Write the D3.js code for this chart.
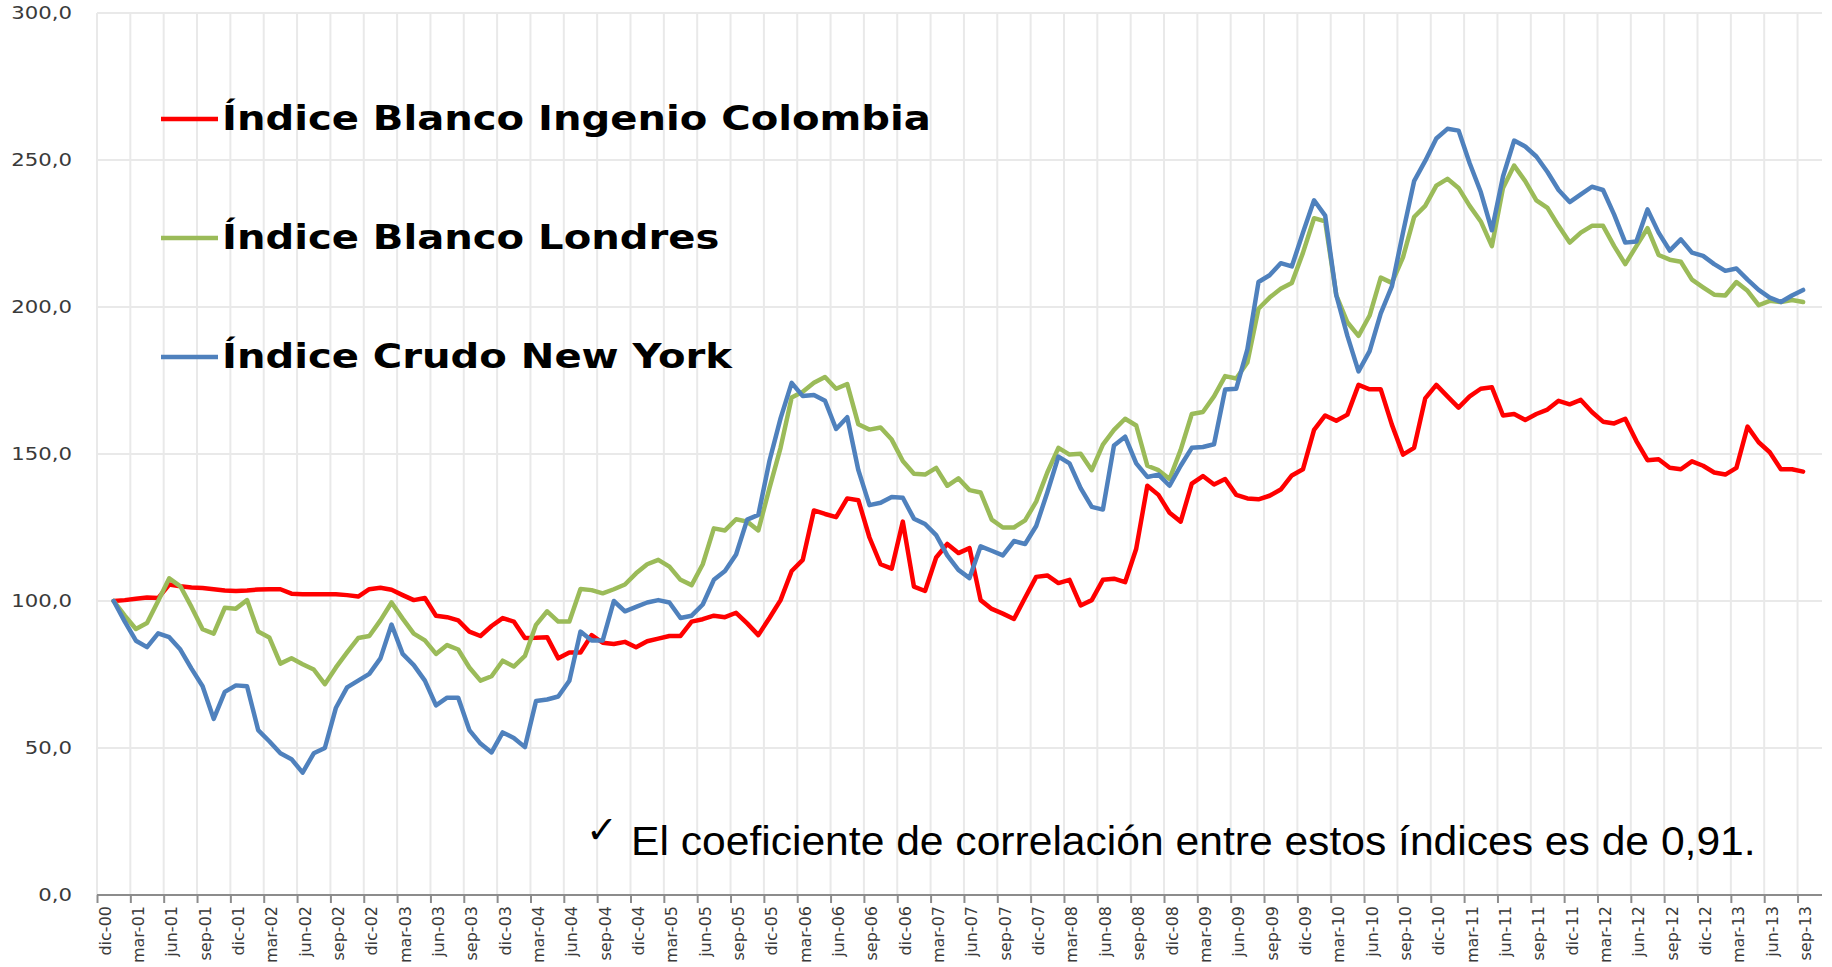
<!DOCTYPE html>
<html>
<head>
<meta charset="utf-8">
<script src="https://cdn.jsdelivr.net/npm/d3@7"></script>
<style>
    body { margin: 0; background: #fff; }
    svg { display: block; background: #fff; }
    .grid line { stroke: #e9e9e9; stroke-width: 2; }
    .y-label { font-family: "DejaVu Sans", Verdana, sans-serif; font-size: 18px; fill: #3a3a3a; }
    .x-label { font-family: "DejaVu Sans", sans-serif; font-size: 16px; fill: #3a3a3a; }
    .legend text { font-family: "DejaVu Sans", Verdana, sans-serif; font-size: 34px; font-weight: bold; fill: #000; }
    .note { font-family: "Liberation Sans", Arial, sans-serif; font-size: 40px; fill: #000; }
    .series { fill: none; stroke-width: 4.5; stroke-linejoin: round; stroke-linecap: round; }
</style>
</head>
<body>
<svg width="1832" height="967"></svg>
<script>
// x tick labels, one every 3 months
const tickLabels = ["dic-00",
    "mar-01","jun-01","sep-01","dic-01", "mar-02","jun-02","sep-02","dic-02",
    "mar-03","jun-03","sep-03","dic-03", "mar-04","jun-04","sep-04","dic-04",
    "mar-05","jun-05","sep-05","dic-05", "mar-06","jun-06","sep-06","dic-06",
    "mar-07","jun-07","sep-07","dic-07", "mar-08","jun-08","sep-08","dic-08",
    "mar-09","jun-09","sep-09","dic-09", "mar-10","jun-10","sep-10","dic-10",
    "mar-11","jun-11","sep-11","dic-11", "mar-12","jun-12","sep-12","dic-12",
    "mar-13","jun-13","sep-13"];

const yTicks = [0, 50, 100, 150, 200, 250, 300];

const seriesNames = ["Índice Blanco Ingenio Colombia", "Índice Blanco Londres", "Índice Crudo New York"];
const seriesColors = ["#ff0000", "#9bbb59", "#4f81bd"];

// monthly index values (base 100)
const colombia = [100, 100.3, 100.8, 101.2, 101, 105.6, 105, 104.6, 104.4, 104,
    103.6, 103.4, 103.6, 103.9, 104, 104, 102.5, 102.3, 102.3, 102.3,
    102.3, 102, 101.5, 104, 104.5, 103.8, 102, 100.3, 101, 95,
    94.5, 93.4, 89.6, 88.1, 91.5, 94.2, 93, 87.4, 87.5, 87.7,
    80.5, 82.5, 82.5, 88.4, 85.8, 85.4, 86.1, 84.3, 86.3, 87.2,
    88.1, 88.1, 93, 93.8, 95, 94.5, 96, 92.4, 88.4, 94.2,
    100.3, 110.2, 114, 130.8, 129.6, 128.5, 134.9, 134.3, 121.6, 112.5,
    111, 127, 104.9, 103.4, 114.8, 119.4, 116.3, 118, 100.3, 97.3,
    95.7, 93.9, 101.1, 108.2, 108.7, 106.1, 107.2, 98.5, 100.3, 107.2,
    107.6, 106.4, 117.8, 139.2, 136.1, 130, 127, 139.9, 142.5, 139.6,
    141.5, 136.1, 134.9, 134.6, 135.8, 137.9, 142.7, 144.8, 158.2, 163.1,
    161.3, 163.4, 173.5, 172, 172, 160, 149.8, 152.1, 168.9, 173.5,
    169.6, 165.8, 169.6, 172.2, 172.7, 163.1, 163.6, 161.6, 163.6, 165.1,
    168.1, 166.9, 168.4, 164.3, 161, 160.4, 162, 154.4, 147.9, 148.2,
    145.3, 144.8, 147.5, 146, 143.7, 143, 145.3, 159.3, 154, 150.6,
    144.8, 144.8, 144];

const londres = [100, 95, 90.5, 92.5, 100, 107.7, 105, 98, 90.4, 88.9,
    97.7, 97.4, 100.3, 89.6, 87.6, 78.7, 80.5, 78.5, 76.7, 71.7,
    77.4, 82.5, 87.4, 88.1, 93.4, 99.5, 94, 88.9, 86.6, 82,
    85, 83.5, 77.4, 72.9, 74.4, 79.7, 77.7, 81.3, 91.9, 96.5,
    93, 93, 104.1, 103.7, 102.6, 104, 105.6, 109.4, 112.5, 114,
    111.7, 107.2, 105.4, 112.5, 124.7, 124, 127.8, 127, 124, 138.4,
    152.1, 169.2, 171.2, 174.2, 176.2, 172.2, 173.8, 160.1, 158.3, 159,
    154.9, 147.6, 143.3, 143, 145.3, 139.2, 141.7, 137.7, 136.9, 127.7,
    125, 125, 127.4, 133.8, 143.7, 152.1, 149.8, 150.1, 144.5, 153.2,
    158.2, 162, 159.7, 146, 144.5, 141.5, 151.4, 163.6, 164.3, 169.6,
    176.5, 175.7, 181.1, 199.4, 203.2, 206.2, 208.2, 218.4, 230.2, 229.1,
    204, 194.8, 190.2, 197.1, 210, 208.2, 216.9, 230.6, 234.4, 241.3,
    243.6, 240.5, 234.4, 229.1, 220.7, 240.5, 248.1, 242.8, 236.3, 233.7,
    227.6, 221.9, 225.3, 227.6, 227.6, 220.7, 214.6, 220.7, 226.8, 217.7,
    216.1, 215.4, 209.3, 206.7, 204.2, 203.9, 208.5, 205.5, 200.6, 202.1,
    201.7, 202.4, 201.7];

const newYork = [100, 93, 86.5, 84.3, 89, 87.7, 83.5, 77, 71, 59.9,
    69.1, 71.3, 71, 56.1, 52.3, 48.2, 46.2, 41.6, 48.2, 50,
    63.7, 70.6, 72.9, 75.2, 80.5, 92, 82, 78.2, 72.9, 64.5,
    67.1, 67.1, 56.1, 51.5, 48.5, 55.3, 53.4, 50.3, 66, 66.5,
    67.5, 72.9, 89.6, 86.6, 86.6, 100, 96.5, 98, 99.5, 100.3,
    99.5, 94.2, 95, 98.8, 107.2, 110.2, 115.8, 127.7, 129.3, 147.6,
    162.1, 174.2, 169.7, 170.1, 168.1, 158.5, 162.5, 144.5, 132.6, 133.4,
    135.4, 135.1, 128, 126.2, 122.4, 115.5, 110.6, 107.8, 118.6, 117.1,
    115.5, 120.4, 119.4, 125.5, 136.9, 149.1, 146.8, 138.4, 132, 131.1,
    152.9, 155.9, 146.8, 142.2, 143, 139.2, 146, 152.1, 152.4, 153.3,
    171.9, 172.2, 185.6, 208.5, 210.8, 214.9, 213.8, 225.3, 236.3, 231.1,
    204, 190.2, 178.1, 185, 197.8, 207, 225.3, 242.8, 249.7, 257.3,
    260.6, 260, 248.9, 239.1, 226.1, 244.4, 256.6, 254.6, 251.2, 245.9,
    239.8, 235.7, 238.3, 240.9, 239.8, 231.4, 221.9, 222.3, 233.2, 225.3,
    219.2, 223, 218.5, 217.4, 214.6, 212.3, 213.1, 209.3, 205.8, 203.2,
    201.7, 203.9, 205.8];

function init() {
    const margin = { top: 13, left: 97 },
        width = 1822 - margin.left,
        height = 895 - margin.top;

    const svg = d3.select("svg");
    const g = svg.append("g")
        .attr("transform", "translate(" + margin.left + "," + margin.top + ")");

    // x in months from the dic-00 tick; points sit mid-way between ticks
    let x = d3.scaleLinear().domain([0, 155.2]).range([0, width]);
    let y = d3.scaleLinear().domain([0, 300]).range([height, 0]);

    const tickPos = tickLabels.map((d, i) => i * 3);

    // gridlines
    g.append("g").attr("class", "grid")
        .selectAll("line.v").data(tickPos).enter().append("line")
        .attr("x1", d => x(d)).attr("x2", d => x(d))
        .attr("y1", 0).attr("y2", height);

    g.append("g").attr("class", "grid")
        .selectAll("line.h").data(yTicks.slice(1)).enter().append("line")
        .attr("x1", 0).attr("x2", width)
        .attr("y1", d => y(d)).attr("y2", d => y(d));

    // y labels
    const fmt = d3.formatLocale({ decimal: ",", thousands: ".", grouping: [3], currency: ["", ""] }).format(".1f");
    g.selectAll(".y-label").data(yTicks).enter().append("text")
        .attr("class", "y-label")
        .attr("text-anchor", "end")
        .attr("dominant-baseline", "central")
        .attr("transform", d => "translate(-25," + y(d) + ") scale(1.18,1)")
        .text(d => fmt(d));

    // x axis
    const xAxis = g.append("g")
        .attr("transform", "translate(0," + height + ")")
        .call(d3.axisBottom(x).tickValues(tickPos).tickSize(8).tickFormat(""));
    xAxis.select(".domain").attr("stroke", "#8c8c8c").attr("stroke-width", 2)
        .attr("d", "M0,0H" + width);
    xAxis.selectAll(".tick line").attr("stroke", "#8c8c8c").attr("stroke-width", 2);

    g.selectAll(".x-label").data(tickLabels).enter().append("text")
        .attr("class", "x-label")
        .attr("text-anchor", "end")
        .attr("dominant-baseline", "central")
        .attr("transform", (d, i) => "translate(" + (x(tickPos[i]) + 8) + "," + (height + 11) + ") rotate(-90)")
        .text(d => d);

    // lines
    const line = d3.line()
        .x((d, i) => x(i + 1.5))
        .y(d => y(d));

    [colombia, londres, newYork].forEach(function (vals, k) {
        g.append("path")
            .datum(vals)
            .attr("class", "series")
            .attr("stroke", seriesColors[k])
            .attr("d", line);
    });

    // legend
    const legend = svg.append("g").attr("class", "legend");
    seriesNames.forEach(function (name, k) {
        const ly = 119 + k * 119;
        legend.append("line")
            .attr("x1", 161).attr("x2", 218)
            .attr("y1", ly).attr("y2", ly)
            .attr("stroke", seriesColors[k])
            .attr("stroke-width", 4.5);
        legend.append("text")
            .attr("transform", "translate(222," + (ly + 11) + ") scale(1.18,1)")
            .text(name);
    });

    // note
    svg.append("text")
        .attr("x", 586).attr("y", 843)
        .style("font-family", "'DejaVu Sans', sans-serif")
        .style("font-size", "38px")
        .text("\u2713");
    svg.append("text")
        .attr("class", "note")
        .attr("transform", "translate(631,855) scale(1.065,1)")
        .text("El coeficiente de correlación entre estos índices es de 0,91.");
}

init();
</script>
</body>
</html>
